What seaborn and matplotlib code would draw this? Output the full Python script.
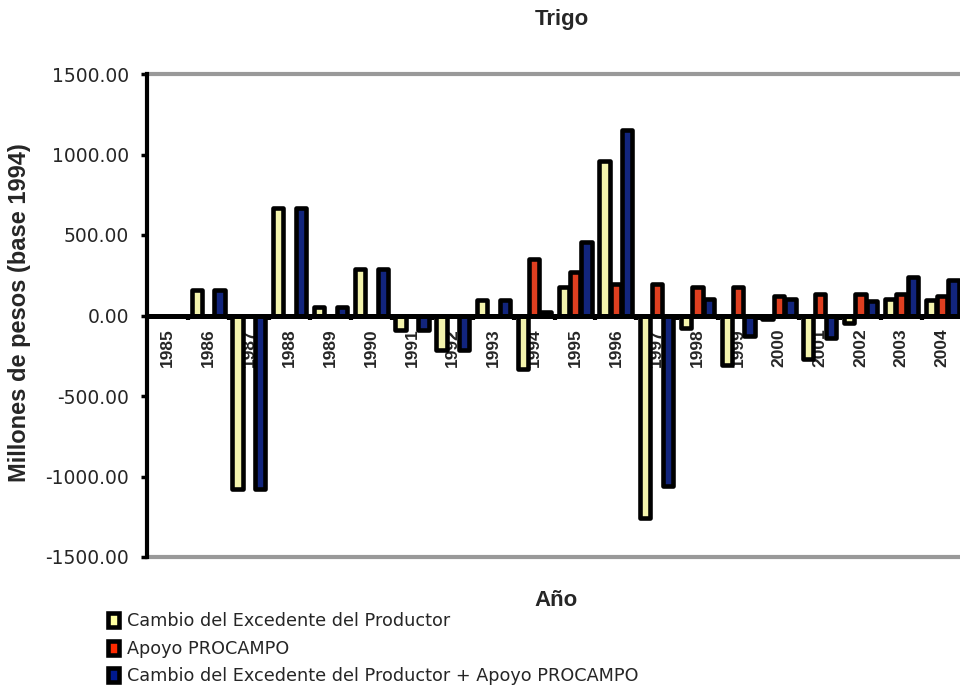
import numpy as np
import pandas as pd
import matplotlib
matplotlib.use("Agg")
import matplotlib.pyplot as plt
import seaborn as sns
from matplotlib.ticker import FixedLocator, FuncFormatter
from matplotlib.patches import Patch

years = [str(y) for y in range(1985, 2005)]
excedente = [0, 160, -1080, 665, 55, 290, -90, -215, 95, -333,
             178, 957, -1255, -80, -310, -20, -272, -45, 104, 95]
procampo = [0, 0, 0, 0, 0, 0, 0, 0, 0, 352,
            273, 195, 195, 180, 180, 122, 135, 135, 135, 122]
total = [0, 160, -1080, 665, 55, 290, -90, -215, 95, 19,
         455, 1152, -1062, 100, -130, 102, -137, 90, 238, 218]

series_names = ["Cambio del Excedente del Productor",
                "Apoyo PROCAMPO",
                "Cambio del Excedente del Productor + Apoyo PROCAMPO"]
colors = ["#FFFFA0", "#FF2A00", "#001A8F"]

df = pd.DataFrame({
    "Año": years * 3,
    "valor": excedente + procampo + total,
    "serie": [series_names[0]] * len(years) + [series_names[1]] * len(years)
             + [series_names[2]] * len(years),
})

sns.set_theme(style="white")
plt.rcParams["font.family"] = ["DejaVu Sans"]

fig = plt.figure(figsize=(9.6, 6.89), dpi=100)
ax = fig.add_axes([147 / 960, 1 - 557 / 689, (960 - 147) / 960, (557 - 74) / 689])

sns.barplot(data=df, x="Año", y="valor", hue="serie", hue_order=series_names,
            palette=colors, width=0.84, gap=0.1, edgecolor="black",
            linewidth=3.3, legend=False, ax=ax, err_kws={"linewidth": 0})
for p in ax.patches:
    p.set_zorder(3)
    p.set_joinstyle("round")

# the category axis runs along the zero line
ax.spines["bottom"].set_position(("data", 0))

ax.set_ylim(-1500, 1500)
ax.set_xlim(-0.5, 19.44)
ax.set_yticks(np.arange(-1500, 1501, 500))
ax.yaxis.set_major_formatter(FuncFormatter(lambda v, _: f"{v:.2f}"))
ax.tick_params(axis="y", which="major", direction="out", length=4, width=2.5,
               color="black", pad=9, labelsize=13.5, left=True)

# year labels sit at the category centres; boundary marks are minor ticks
ax.xaxis.set_minor_locator(FixedLocator(np.arange(0.5, len(years), 1.0)))
ax.tick_params(axis="x", which="major", length=0, pad=9, bottom=True)
ax.tick_params(axis="x", which="minor", direction="out", length=3, width=3,
               color="black", bottom=True)
ax.set_xticks(np.arange(len(years)), labels=years, rotation=90,
              fontweight="bold", fontsize=12.5, family=["Liberation Sans"],
              va="top")
ax.xaxis.set_zorder(0.5)
ax.set_xlabel("")
ax.set_ylabel("")

ax.spines["bottom"].set_linewidth(3.6)
ax.spines["bottom"].set_color("black")
ax.spines["bottom"].set_zorder(4)
ax.spines["left"].set_linewidth(3)
ax.spines["left"].set_color("black")
ax.spines["left"].set_zorder(5)
ax.spines["top"].set_linewidth(3)
ax.spines["top"].set_color("#999999")
ax.spines["right"].set_visible(False)
ax.axhline(-1500, color="#999999", linewidth=3, zorder=2, clip_on=False)

fig.text(562 / 960, 1 - 19 / 689, "Trigo", ha="center", va="center",
         fontsize=16, fontweight="bold", family=["Liberation Sans"])
fig.text(556 / 960, 1 - 600 / 689, "Año", ha="center", va="center",
         fontsize=16, fontweight="bold", family=["Liberation Sans"])
fig.text(20 / 960, 1 - 313 / 689, "Millones de pesos (base 1994)", rotation=90,
         ha="center", va="center", fontsize=17, fontweight="bold",
         family=["Liberation Sans"])

handles = [Patch(facecolor=c, edgecolor="black", linewidth=3.3) for c in colors]
fig.legend(handles, series_names, loc="upper left",
           bbox_to_anchor=(108 / 960, 1 - 612 / 689), frameon=False,
           fontsize=12.7, handlelength=0.6, handleheight=0.85,
           handletextpad=0.45, labelspacing=0.55, borderpad=0, borderaxespad=0)

fig.savefig("out.png", dpi=100)
